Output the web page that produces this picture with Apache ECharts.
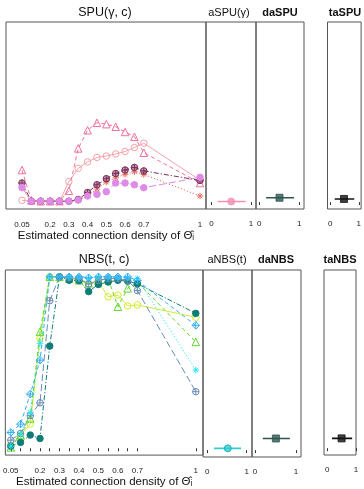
<!DOCTYPE html>
<html><head><meta charset="utf-8">
<script src="https://cdn.jsdelivr.net/npm/echarts@6/dist/echarts.min.js"></script>
<style>html,body{margin:0;padding:0;background:#fff}#c{width:364px;height:489px}</style>
</head><body><div id="c"></div>
<script>
// ---------- data ----------
const densities = [0.05,0.1,0.15,0.2,0.25,0.3,0.35,0.4,0.45,0.5,0.55,0.6,0.65,0.7,1];
const densityTicks = [0.05,0.1,0.15,0.2,0.25,0.3,0.35,0.4,0.45,0.5,0.55,0.6,0.65,0.7,1];
const densityLabels = [0.05,0.2,0.3,0.4,0.5,0.6,0.7,1];
const sideTicks = [0,1];

// SPU(gamma, c) curves
const spuTriangle = [0.185,0.01,0.005,0.005,0.005,0.065,0.31,0.415,0.458,0.45,0.435,0.405,0.377,0.285,0.11];
const spuCircle   = [0.01,0.005,0.005,0.005,0.005,0.118,0.195,0.232,0.258,0.266,0.278,0.292,0.315,0.34,0.127];
const spuCross    = [0.11,0.005,0.005,0.005,0.005,0.005,0.015,0.055,0.10,0.135,0.165,0.185,0.20,0.18,0.125];
const spuStar     = [0.08,0.005,0.005,0.005,0.005,0.005,0.01,0.035,0.075,0.115,0.14,0.16,0.175,0.16,0.035];
const spuDot      = [0.085,0.005,0.005,0.005,0.005,0.005,0.012,0.035,0.045,0.06,0.11,0.11,0.10,0.083,0.143];

// NBS(t, c) curves
const nbsDot      = [0.012,0.034,0.077,0.057,0.596,1.0,0.98,0.978,0.914,0.956,0.97,0.98,0.975,0.96,0.787];
const nbsCross    = [0.047,0.086,0.19,0.265,0.861,1.0,0.995,0.99,0.958,0.98,0.99,0.99,0.98,0.92,0.33];
const nbsDiamond  = [0.092,0.141,0.316,0.514,1.0,1.0,1.0,1.0,0.995,1.0,1.0,1.0,1.0,0.978,0.717];
const nbsStar     = [0.012,0.082,0.209,0.612,1.0,1.0,1.0,0.995,0.99,1.0,1.0,0.995,0.995,0.99,0.456];
const nbsTriangle = [0.005,0.077,0.174,0.68,1.0,1.0,0.99,0.98,0.962,0.98,0.99,0.826,0.933,0.97,0.62];
const nbsCircle   = [0.018,0.077,0.141,0.64,1.0,1.0,0.99,0.98,0.96,0.97,0.884,0.894,0.83,0.836,0.764];

// adaptive tests (estimate with interval), order: aSPU, daSPU, taSPU, aNBS, daNBS, taNBS
const sideNames = ['aSPU(γ)','daSPU','taSPU','aNBS(t)','daNBS','taNBS'];
const sideEst   = [0.50,0.505,0.48,0.52,0.51,0.50];
const sideLow   = [0.157,0.17,0.154,0.17,0.19,0.167];
const sideHigh  = [0.866,0.87,0.84,0.86,0.85,0.867];
const sidePower = [0.003,0.025,0.018,0.01,0.067,0.057];

const panelTitles = ['SPU(γ, c)','NBS(t, c)'];
const xTitle = 'Estimated connection density of Θ̂ᵢ';

// ---------- layout / style ----------
const FONT = '"Liberation Sans", Arial, Helvetica, sans-serif';
const grids = [
  {left:6,     top:22,  width:200,  height:187}, // SPU
  {left:206,   top:22,  width:50,   height:187}, // aSPU
  {left:256,   top:22,  width:48,   height:187}, // daSPU
  {left:327.5, top:22,  width:36,   height:187}, // taSPU
  {left:4,     top:270, width:199,  height:187}, // NBS
  {left:203,   top:270, width:49,   height:187}, // aNBS
  {left:252,   top:270, width:49,   height:187}, // daNBS
  {left:324,   top:270, width:32,   height:185}  // taNBS
];
const xRanges = [
  [-0.0354,1.032],[-0.139,1.127],[-0.083,1.118],[-0.098,1.082],
  [0.022,1.037],[-0.109,1.135],[-0.073,1.122],[-0.11,1.0]
];
const P_CPLUS = 'path://M0,10A10,10,0,1,1,20,10A10,10,0,1,1,0,10ZM10,0L10,20M0,10L20,10';
const P_DPLUS = 'path://M10,0L20,10L10,20L0,10ZM10,0L10,20M0,10L20,10';
const P_AST   = 'path://M10,0L10,20M0,10L20,10M3,3L17,17M3,17L17,3';
const DASH = {solid:'solid', dashed:[4,3], dotted:[1.2,2], dotdash:[5,2,1.2,2], longdash:[7,3]};

function curve(values, gi, color, symbol, size, dash, fill) {
  return {
    type:'line', xAxisIndex:gi, yAxisIndex:gi,
    data: densities.map((d,i)=>[d, values[i]]),
    symbol: symbol, symbolSize: size,
    lineStyle:{color:color, width:1, type:DASH[dash]},
    itemStyle:{color: fill || 'rgba(255,255,255,0)', borderColor:color, borderWidth:1},
    z: 3
  };
}

const series = [
  curve(spuCircle,   0, '#f4a3aa', 'circle',   6.5, 'solid'),
  curve(spuTriangle, 0, '#f27099', 'triangle', 7.5, 'dashed'),
  curve(spuStar,     0, '#e8705c', P_AST,      6.5, 'dotted'),
  curve(spuCross,    0, '#7d2c58', P_CPLUS,    6.5, 'dotdash', 'rgba(125,44,88,0.45)'),
  curve(spuDot,      0, '#de8ae6', 'circle',   6.5, 'longdash', '#de8ae6'),

  curve(nbsCircle,   4, '#d2ec2e', 'circle',   6.5, 'solid'),
  curve(nbsTriangle, 4, '#5fd82a', 'triangle', 7.5, 'dashed'),
  curve(nbsDot,      4, '#0e7d77', 'circle',   6.5, 'dotdash', '#0e7d77'),
  curve(nbsCross,    4, '#6a8cb8', P_CPLUS,    6.5, 'longdash'),
  curve(nbsStar,     4, '#2fe2f0', P_AST,      6.5, 'dotted'),
  curve(nbsDiamond,  4, '#35aef5', P_DPLUS,    7.5, 'dashed')
];

const sideGrid   = [1,2,3,5,6,7];
const sideColor  = ['#f48fb4','#2e5651','#111111','#2ccfd6','#2e5651','#111111'];
const sideSymbol = ['circle','rect','rect','circle','rect','rect'];
sideGrid.forEach((gi,k)=>{
  series.push({
    type:'line', xAxisIndex:gi, yAxisIndex:gi, symbol:'none',
    data:[[sideLow[k], sidePower[k]],[sideHigh[k], sidePower[k]]],
    lineStyle:{color:sideColor[k], width:1.6}, z:2
  });
  series.push({
    type:'scatter', xAxisIndex:gi, yAxisIndex:gi,
    data:[[sideEst[k], sidePower[k]]],
    symbol: sideSymbol[k], symbolSize: 7,
    itemStyle:{color:sideColor[k], borderColor: k===3 ? '#1aa3a8' : sideColor[k], borderWidth:1}, z:4
  });
});

const xAxes = grids.map((g,gi)=>{
  const main = (gi===0 || gi===4);
  return {
    type:'value', gridIndex:gi, min:xRanges[gi][0], max:xRanges[gi][1],
    axisLine:{show:false}, splitLine:{show:false},
    axisTick:{show: gi!==0, length:3, lineStyle:{color:'#333'},
              customValues: main ? densityTicks : sideTicks},
    axisLabel:{fontSize:8, color:'#222', fontFamily:FONT, margin: main ? 12 : 11,
               customValues: main ? densityLabels : sideTicks,
               formatter: v => String(v)},
    name: main ? xTitle : '', nameLocation:'middle', nameGap: 20,
    nameTextStyle:{fontSize:11.5, color:'#111', fontFamily:FONT}
  };
});
const yAxes = grids.map((g,gi)=>({type:'value', gridIndex:gi, min:-0.04, max:1.04, show:false}));

const titleSpecs = [
  {t:panelTitles[0], x:105, y:13, w:'normal', s:12.5},
  {t:sideNames[0],   x:229, y:13, w:'normal', s:11},
  {t:sideNames[1],   x:280, y:13, w:'bold',   s:11},
  {t:sideNames[2],   x:345, y:13, w:'bold',   s:11},
  {t:panelTitles[1], x:104, y:260, w:'normal', s:12.5},
  {t:sideNames[3],   x:227, y:260, w:'normal', s:11},
  {t:sideNames[4],   x:276, y:260, w:'bold',   s:11},
  {t:sideNames[5],   x:340, y:260, w:'bold',   s:11}
];

const chart = echarts.init(document.getElementById('c'), null, {renderer:'canvas'});
chart.setOption({
  animation:false,
  backgroundColor:'#fff',
  grid: grids.map(g=>Object.assign({show:true, borderColor:'#555', borderWidth:1, backgroundColor:'rgba(0,0,0,0)', containLabel:false}, g)),
  xAxis: xAxes,
  yAxis: yAxes,
  series: series,
  graphic: titleSpecs.map(s=>({
    type:'text', x:s.x, y:s.y,
    style:{text:s.t, textAlign:'center', textVerticalAlign:'middle',
           font: s.w+' '+s.s+'px '+FONT, fill:'#111'}
  }))
});
</script></body></html>
